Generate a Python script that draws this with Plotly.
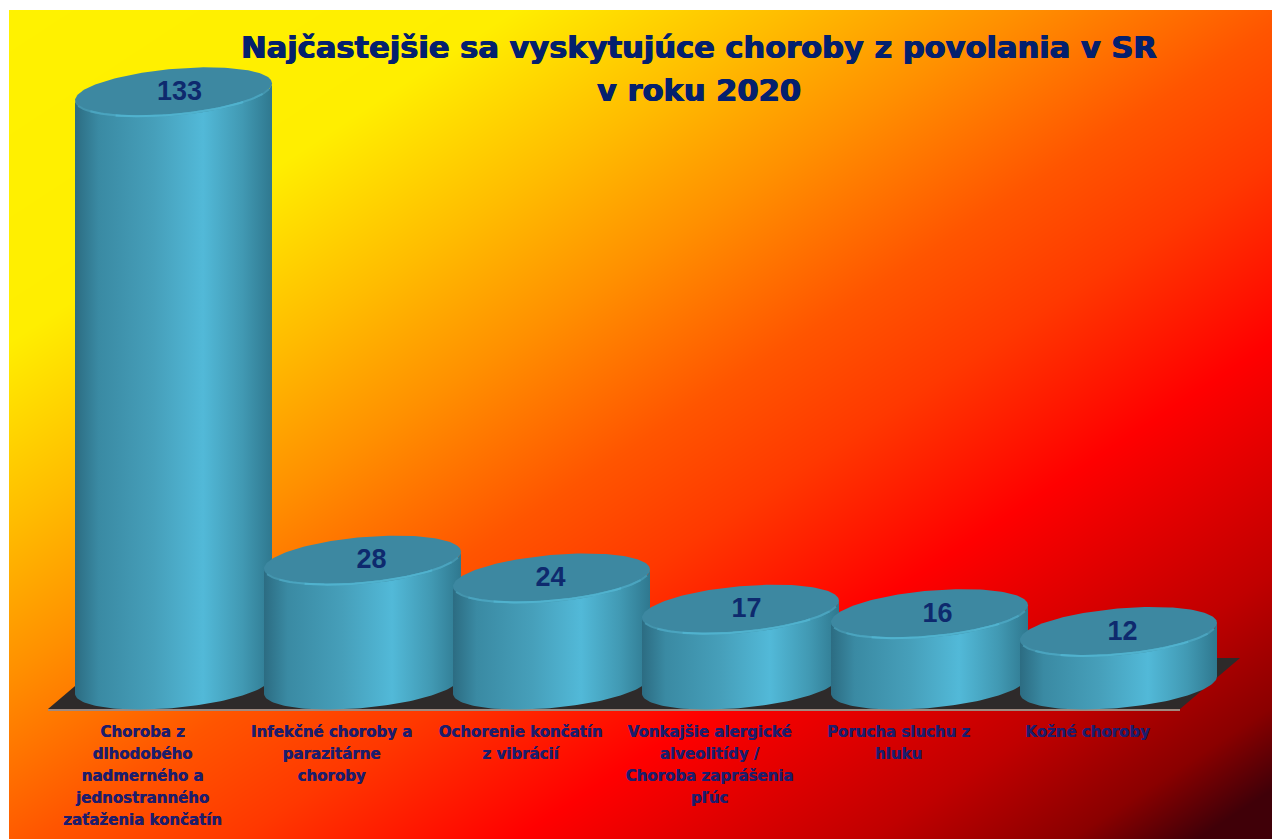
import numpy as np
import plotly.graph_objects as go

# ---- data ----
title_lines = ["Najčastejšie sa vyskytujúce choroby z povolania v SR", "v roku 2020"]
categories = [
    "Choroba z<br>dlhodobého<br>nadmerného a<br>jednostranného<br>zaťaženia končatín",
    "Infekčné choroby a<br>parazitárne<br>choroby",
    "Ochorenie končatín<br>z vibrácií",
    "Vonkajšie alergické<br>alveolitídy /<br>Choroba zaprášenia<br>pľúc",
    "Porucha sluchu z<br>hluku",
    "Kožné choroby",
]
values = [133, 28, 24, 17, 16, 12]

# ---- geometry / style (pixels of the 1272x839 page) ----
W, H = 1272, 839
LEFT, TOP = 9, 10
X0, DX = 173.5, 189.0        # centre of first cylinder, spacing
BASE, PXU = 685.0, 4.46      # pixel of value 0, pixels per unit
A, B, C = 98.5, 23.0, 8.5    # ellipse half-width, half-height, shear

def xd(px): return (px - X0) / DX
def yd(px): return (BASE - px) / PXU

x_range = [xd(LEFT), xd(W)]
y_range = [yd(H), yd(TOP)]

bg_scale = [[0, "#fff200"], [0.2, "#ffee00"], [0.31, "#ffbc00"], [0.4, "#ff9000"],
            [0.51, "#ff5500"], [0.59, "#ff3800"], [0.70, "#ff0000"], [0.84, "#c00000"],
            [0.92, "#8a0000"], [0.97, "#400008"], [1, "#400008"]]
side_scale = [[0, "#2c6c82"], [0.12, "#3a8aa3"], [0.4, "#469fba"], [0.65, "#52b9d8"],
              [0.85, "#4199b3"], [1, "#2f788f"]]
TOP_COLOR = "#3d88a1"
RIM_SEGMENTS = [(1.08, 1.92, "#4495ae"), (1.18, 1.86, "#4aa4bf"), (1.3, 1.75, "#50b2ce")]
NAVY = "#0e2a6e"
LABEL = "#1d1d6c"

fig = go.Figure()

# background gradient
fig.add_trace(go.Heatmap(x=[0, 1], y=[1, 0], z=[[0, 0.5], [0.5, 1]], zmin=0, zmax=1,
                         colorscale=bg_scale, zsmooth="best", showscale=False,
                         hoverinfo="skip", xaxis="x", yaxis="y"))

# floor
fx = [xd(48), xd(1180), xd(1240), xd(108), xd(48)]
fy = [yd(709), yd(709), yd(658), yd(658), yd(709)]
fig.add_trace(go.Scatter(x=fx, y=fy, mode="lines", fill="toself", fillcolor="#2e2a2a",
                         line=dict(width=0), hoverinfo="skip", xaxis="x2", yaxis="y2"))
fig.add_trace(go.Scatter(x=[xd(48), xd(1180)], y=[yd(710), yd(710)], mode="lines",
                         line=dict(color="#a08a80", width=2), hoverinfo="skip",
                         xaxis="x2", yaxis="y2"))

def arc(i, v, t):
    return i + A * np.cos(t) / DX, v + (B * np.sin(t) + C * np.cos(t)) / PXU

front = np.linspace(np.pi, 2 * np.pi, 80)
whole = np.linspace(0, 2 * np.pi, 160)
for i, v in enumerate(values):
    xt, yt = arc(i, v, front)
    xb, yb = arc(i, 0, front[::-1])
    fig.add_trace(go.Scatter(x=np.r_[xt, xb, xt[0]], y=np.r_[yt, yb, yt[0]], mode="lines",
                             fill="toself", line=dict(width=0),
                             fillgradient=dict(type="horizontal", colorscale=side_scale),
                             hoverinfo="skip", xaxis="x2", yaxis="y2"))
    xe, ye = arc(i, v, whole)
    fig.add_trace(go.Scatter(x=xe, y=ye, mode="lines", fill="toself", fillcolor=TOP_COLOR,
                             line=dict(width=0), hoverinfo="skip", xaxis="x2", yaxis="y2"))
    for t0, t1, col in RIM_SEGMENTS:
        xr, yr = arc(i, v, np.linspace(t0 * np.pi, t1 * np.pi, 50))
        fig.add_trace(go.Scatter(x=xr, y=yr, mode="lines", line=dict(color=col, width=2),
                                 hoverinfo="skip", xaxis="x2", yaxis="y2"))

# value labels, sitting on the tilted tops
nudge = [6, 9, -1, 6, 8, 4]
fig.add_trace(go.Scatter(x=[i + nudge[i] / DX for i in range(len(values))],
                         y=[v - 1.5 / PXU for v in values],
                         mode="text", text=[str(v) for v in values], textposition="middle center",
                         textfont=dict(family="Liberation Sans", size=27, color=NAVY, weight="bold"),
                         hoverinfo="skip", xaxis="x2", yaxis="y2"))

tick_text = [f"<span style='font-size:15px'>{c}</span>" for c in categories]
title_text = "<span style='font-size:30.5px'>" + "<br>".join(title_lines) + "</span>"
fig.update_layout(
    width=W, height=H, margin=dict(l=0, r=0, t=0, b=0),
    paper_bgcolor="white", plot_bgcolor="white", showlegend=False,
    title=dict(text=title_text, x=699 / W, xanchor="center", xref="paper",
               y=1 - 58 / H, yanchor="top", yref="paper",
               font=dict(family="DejaVu Sans", size=33, color="#04206e", weight="bold",
                         shadow="0.6px 0 0 #04206e, -0.6px 0 0 #04206e")),
    xaxis=dict(domain=[LEFT / W, 1], range=[0, 1], visible=False, fixedrange=True),
    yaxis=dict(domain=[0, 1 - TOP / H], range=[0, 1], visible=False, fixedrange=True),
    xaxis2=dict(overlaying="x", anchor="free", position=(H - 712) / H, side="bottom",
                range=x_range, showgrid=False, zeroline=False, showline=False, ticks="",
                tickmode="array", tickvals=[i - 31 / DX for i in range(len(categories))],
                ticktext=tick_text, tickangle=0, ticklabelstandoff=7,
                tickfont=dict(family="DejaVu Sans", size=17, color=LABEL, weight="bold",
                              shadow="0.4px 0 0 #1d1d6c")),
    yaxis2=dict(overlaying="y", anchor="x2", range=y_range, visible=False),
)

fig.write_html("out.html", config={"displayModeBar": False},
               post_script="document.body.style.margin='0';document.body.style.overflow='hidden';")
